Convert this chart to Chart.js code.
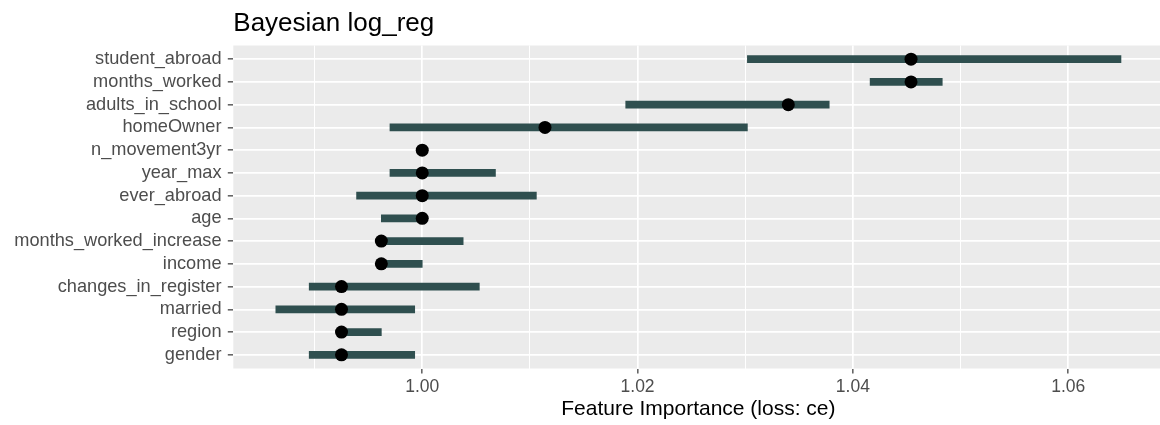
<!DOCTYPE html>
<html>
<head>
<meta charset="utf-8">
<script src="https://cdn.jsdelivr.net/npm/chart.js@4.4.1/dist/chart.umd.min.js"></script>
<style>
  html, body { margin: 0; padding: 0; overflow: hidden; background: #ffffff; width: 1160px; height: 425px; }
  canvas { display: block; }
</style>
</head>
<body>
<canvas id="c" width="1170" height="425"></canvas>
<script>
// ---- data ----
const chartTitle = 'Bayesian log_reg';
const xAxisTitle = 'Feature Importance (loss: ce)';
const categories = ['student_abroad', 'months_worked', 'adults_in_school', 'homeOwner', 'n_movement3yr',
  'year_max', 'ever_abroad', 'age', 'months_worked_increase', 'income', 'changes_in_register',
  'married', 'region', 'gender'];
const importance = [1.0454, 1.0454, 1.0340, 1.0114, 1.0000, 1.0000, 1.0000, 1.0000, 0.9962, 0.9962, 0.9925, 0.9925, 0.9925, 0.9925];
const lower      = [1.0302, 1.0416, 1.0189, 0.9970, 1.0000, 0.9970, 0.9939, 0.9962, 0.9962, 0.9962, 0.9895, 0.9864, 0.9925, 0.9895];
const upper      = [1.0649, 1.0483, 1.0378, 1.0302, 1.0000, 1.0068, 1.0106, 1.0000, 1.0038, 1.0000, 1.0053, 0.9993, 0.9962, 0.9993];
const xTickValues = [1.00, 1.02, 1.04, 1.06];
const xTickLabels = ['1.00', '1.02', '1.04', '1.06'];
const xMinorValues = [0.99, 1.01, 1.03, 1.05];
const xRange = [0.98245, 1.06885];

// ---- styling ----
const FONT = '"Liberation Sans", Arial, Helvetica, sans-serif';
const isMajor = v => xTickValues.some(t => Math.abs(t - v) < 1e-9);

const panelBg = {
  id: 'panelBg',
  beforeDraw(chart) {
    const { ctx, chartArea: a } = chart;
    ctx.save();
    ctx.fillStyle = '#EBEBEB';
    ctx.fillRect(a.left, a.top, a.right - a.left, a.bottom - a.top);
    ctx.restore();
  },
  afterDraw(chart) {
    const { ctx, chartArea: a } = chart;
    ctx.save();
    ctx.fillStyle = '#000000';
    ctx.font = '26px ' + FONT;
    ctx.textAlign = 'left';
    ctx.textBaseline = 'alphabetic';
    ctx.fillText(chartTitle, a.left, 30.5);
    ctx.restore();
  }
};

const allXTicks = xMinorValues.concat(xTickValues).sort((a, b) => a - b);

new Chart(document.getElementById('c'), {
  type: 'bar',
  data: {
    datasets: [
      {
        type: 'scatter',
        label: 'importance',
        data: categories.map((c, i) => ({ x: importance[i], y: i })),
        backgroundColor: '#000000',
        borderColor: '#000000',
        borderWidth: 0,
        pointRadius: 6.5,
        pointHoverRadius: 6.5,
        order: 0
      },
      {
        type: 'bar',
        label: 'interval',
        indexAxis: 'y',
        data: categories.map((c, i) => ({ x: [lower[i], upper[i]], y: i })),
        backgroundColor: '#2F4F4F',
        borderWidth: 0,
        barThickness: 7,
        order: 1
      }
    ]
  },
  options: {
    responsive: false,
    animation: false,
    indexAxis: 'y',
    devicePixelRatio: 1,
    layout: { padding: { top: 45.5, left: 0, right: 0, bottom: 0 } },
    plugins: {
      legend: { display: false },
      tooltip: { enabled: false },
      title: { display: false }
    },
    scales: {
      x: {
        type: 'linear',
        position: 'bottom',
        min: xRange[0],
        max: xRange[1],
        beginAtZero: false,
        offset: false,
        afterBuildTicks: s => { s.ticks = allXTicks.map(v => ({ value: v })); },
        afterFit: s => { s.height = 56.5; },
        border: { display: false },
        grid: {
          offset: false,
          color: '#FFFFFF',
          lineWidth: ctx => (ctx.tick && isMajor(ctx.tick.value)) ? 1.7 : 1.0,
          tickColor: ctx => (ctx.tick && isMajor(ctx.tick.value)) ? '#333333' : 'rgba(0,0,0,0)',
          tickLength: 5,
          tickWidth: 1.2,
          drawTicks: true
        },
        ticks: {
          autoSkip: false,
          maxRotation: 0,
          padding: 3.2,
          color: '#4D4D4D',
          font: { size: 17.5, family: FONT },
          callback: v => {
            const k = xTickValues.findIndex(t => Math.abs(t - v) < 1e-9);
            return k >= 0 ? xTickLabels[k] : '';
          }
        },
        title: {
          display: true,
          text: xAxisTitle,
          color: '#000000',
          font: { size: 21, family: FONT },
          padding: { top: 0, bottom: 3 }
        }
      },
      y: {
        type: 'linear',
        position: 'left',
        reverse: true,
        min: -0.6,
        max: categories.length - 1 + 0.6,
        offset: false,
        afterBuildTicks: s => { s.ticks = categories.map((c, i) => ({ value: i })); },
        afterFit: s => { s.width = 233.3; },
        border: { display: false },
        grid: {
          offset: false,
          color: '#FFFFFF',
          lineWidth: 1.7,
          tickColor: '#333333',
          tickLength: 5.5,
          tickWidth: 1.2
        },
        ticks: {
          autoSkip: false,
          padding: 6.3,
          color: '#4D4D4D',
          font: { size: 18.2, family: FONT },
          callback: v => categories[Math.round(v)]
        }
      }
    }
  },
  plugins: [panelBg]
});
</script>
</body>
</html>
